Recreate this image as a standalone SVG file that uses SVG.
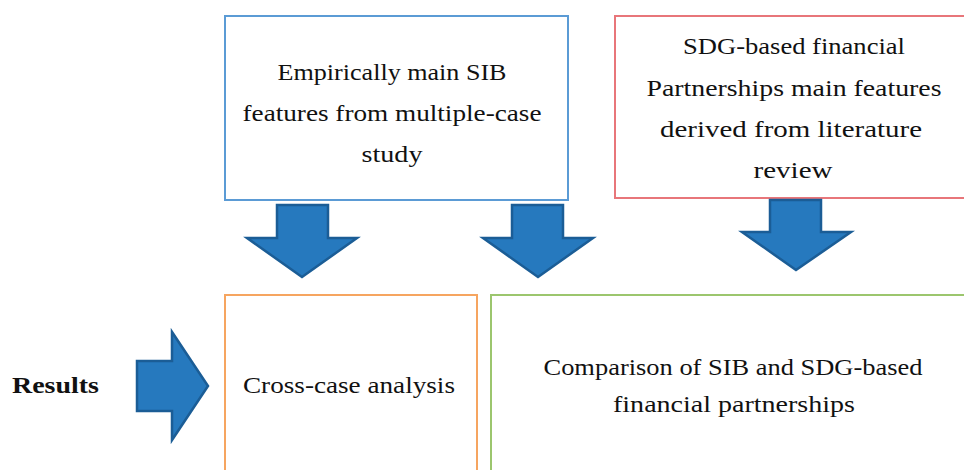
<svg xmlns="http://www.w3.org/2000/svg" width="964" height="470" viewBox="0 0 964 470">
  <style>
    .box { fill: #ffffff; stroke-width: 2; }
    .blue { stroke: #5b9bd5; }
    .red { stroke: #e8767a; }
    .orange { stroke: #f6a560; }
    .green { stroke: #9cc66e; }
    .lbl { font-family: "Liberation Serif", "Times New Roman", serif; font-size: 22.5px; fill: #111111; text-anchor: middle; }
    .head { font-family: "Liberation Serif", "Times New Roman", serif; font-size: 23px; font-weight: bold; fill: #111111; }
    .arrow { fill: #2679be; stroke: #1b5d96; stroke-width: 2.5; stroke-linejoin: miter; }
  </style>
  <rect width="964" height="470" fill="#ffffff"/>

  <g id="sib-features">
    <rect class="box blue" x="225" y="16" width="343" height="184"/>
    <text class="lbl" x="392" y="80" textLength="229" lengthAdjust="spacingAndGlyphs">Empirically main SIB</text>
    <text class="lbl" x="392" y="121" textLength="299" lengthAdjust="spacingAndGlyphs">features from multiple-case</text>
    <text class="lbl" x="392" y="162" textLength="61" lengthAdjust="spacingAndGlyphs">study</text>
  </g>

  <g id="sdg-features">
    <rect class="box red" x="615" y="16" width="360" height="182"/>
    <text class="lbl" x="794" y="54" textLength="222" lengthAdjust="spacingAndGlyphs">SDG-based financial</text>
    <text class="lbl" x="794" y="96" textLength="295" lengthAdjust="spacingAndGlyphs">Partnerships main features</text>
    <text class="lbl" x="791" y="137" textLength="262" lengthAdjust="spacingAndGlyphs">derived from literature</text>
    <text class="lbl" x="793" y="178" textLength="79" lengthAdjust="spacingAndGlyphs">review</text>
  </g>

  <g id="results">
    <text class="head" x="12" y="393" textLength="87" lengthAdjust="spacingAndGlyphs">Results</text>
  </g>

  <g id="cross-case">
    <rect class="box orange" x="225" y="295" width="252" height="190"/>
    <text class="lbl" x="349" y="393" textLength="212" lengthAdjust="spacingAndGlyphs">Cross-case analysis</text>
  </g>

  <g id="comparison">
    <rect class="box green" x="491" y="295" width="490" height="190"/>
    <text class="lbl" x="733" y="375" textLength="379" lengthAdjust="spacingAndGlyphs">Comparison of SIB and SDG-based</text>
    <text class="lbl" x="734" y="412" textLength="242" lengthAdjust="spacingAndGlyphs">financial partnerships</text>
  </g>

  <g id="connectors">
    <!-- block arrows pointing down into the lower row -->
    <polygon class="arrow" points="277,205 328,205 328,238 357,238 302,277 247,238 277,238"/>
    <polygon class="arrow" points="512,205 563,205 563,238 593,238 538,277 483,238 512,238"/>
    <polygon class="arrow" points="770,200 821,200 821,232 851,232 796,270 742,232 770,232"/>
    <!-- block arrow from the Results label -->
    <polygon class="arrow" points="137,361 172,361 172,332 208,386 172,440 172,411 137,411"/>
  </g>
</svg>
